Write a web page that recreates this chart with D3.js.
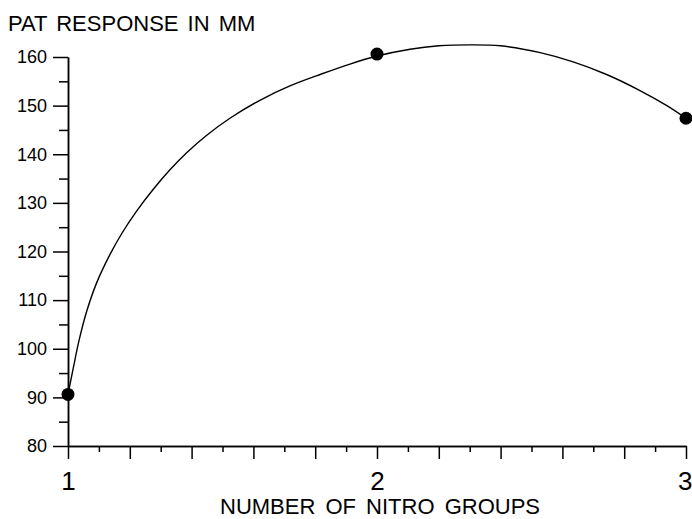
<!DOCTYPE html>
<html>
<head>
<meta charset="utf-8">
<script src="https://cdn.jsdelivr.net/npm/d3@7"></script>
<style>
  body { margin: 0; background: #fff; }
  svg { display: block; }
  text { font-family: "Liberation Sans", Arial, sans-serif; fill: #000; }
  .axis path, .axis line { stroke: #000; stroke-width: 1.5; }
</style>
</head>
<body>
<div id="container"></div>
<script>
// measured points
var pointX = [1, 2, 3];
var pointY = [90.6, 160.6, 147.4];

// fitted curve
var curveX = [1.0, 1.017, 1.035, 1.061, 1.093, 1.136, 1.174, 1.222, 1.276, 1.33, 1.384, 1.449,
    1.524, 1.621, 1.72, 1.82, 1.91, 2.0, 2.107, 2.2, 2.3, 2.4, 2.528, 2.635, 2.743, 2.851, 2.938, 3.0];
var curveY = [90.6, 96.0, 101.5, 107.8, 113.6, 119.4, 123.7, 128.3, 132.8, 136.8, 140.3, 143.9,
    147.4, 151.1, 154.1, 156.5, 158.5, 160.2, 161.6, 162.3, 162.5, 162.3, 160.9, 159.0, 156.4, 153.1, 150.0, 147.4];

// tick values
var yMajor = [80, 90, 100, 110, 120, 130, 140, 150, 160];
var yMinor = [85, 95, 105, 115, 125, 135, 145, 155];
var xMajor = [1, 1.2, 1.4, 1.6, 1.8, 2, 2.2, 2.4, 2.6, 2.8, 3];
var xMinor = [1.1, 1.3, 1.5, 1.7, 1.9, 2.1, 2.3, 2.5, 2.7, 2.9];
var xLabels = [1, 2, 3];

var width = 692;
var height = 519;

var svg = d3.select("#container")
    .append("svg")
    .attr("width", width)
    .attr("height", height);

var x = d3.scaleLinear().domain([1, 3]).range([68, 686]);
var y = d3.scaleLinear().domain([80, 160]).range([446, 57]);

// y axis: minor ticks then major ticks with labels
svg.append("g")
    .attr("class", "axis")
    .attr("transform", "translate(" + x(1) + ",0)")
    .call(d3.axisLeft(y).tickValues(yMinor).tickSize(9).tickSizeOuter(0).tickFormat(""));

var yAxis = svg.append("g")
    .attr("class", "axis")
    .attr("transform", "translate(" + x(1) + ",0)")
    .call(d3.axisLeft(y).tickValues(yMajor).tickSize(15).tickSizeOuter(0).tickPadding(6));
yAxis.selectAll("text").attr("font-size", 18);

// x axis
svg.append("g")
    .attr("class", "axis")
    .attr("transform", "translate(0," + y(80) + ")")
    .call(d3.axisBottom(x).tickValues(xMinor).tickSize(6).tickSizeOuter(0).tickFormat(""));

var xAxis = svg.append("g")
    .attr("class", "axis")
    .attr("transform", "translate(0," + y(80) + ")")
    .call(d3.axisBottom(x).tickValues(xMajor).tickSize(13).tickSizeOuter(0)
        .tickFormat(function (d) {
            return xLabels.indexOf(Math.round(d * 10) / 10) >= 0 ? d3.format("d")(d) : "";
        }));
xAxis.selectAll("text")
    .attr("font-size", 26)
    .attr("y", 44)
    .attr("dy", 0);
// last label sits against the right edge
xAxis.selectAll("text")
    .filter(function (d) { return d === 3; })
    .attr("text-anchor", "end")
    .attr("x", width - x(3));

// axis titles
svg.append("text")
    .attr("x", 8)
    .attr("y", 31)
    .attr("font-size", 22)
    .attr("word-spacing", 3)
    .text("PAT RESPONSE IN MM");

svg.append("text")
    .attr("x", 220)
    .attr("y", 514)
    .attr("font-size", 22)
    .attr("word-spacing", 4)
    .text("NUMBER OF NITRO GROUPS");

// curve
var line = d3.line()
    .x(function (d, i) { return x(curveX[i]); })
    .y(function (d, i) { return y(curveY[i]); })
    .curve(d3.curveCatmullRom.alpha(0.5));

svg.append("path")
    .datum(curveX)
    .attr("d", line)
    .attr("fill", "none")
    .attr("stroke", "#000")
    .attr("stroke-width", 1.4);

// points
svg.selectAll("circle")
    .data(pointX)
    .enter()
    .append("circle")
    .attr("cx", function (d) { return x(d); })
    .attr("cy", function (d, i) { return y(pointY[i]); })
    .attr("r", 6.5)
    .attr("fill", "#000");
</script>
</body>
</html>
